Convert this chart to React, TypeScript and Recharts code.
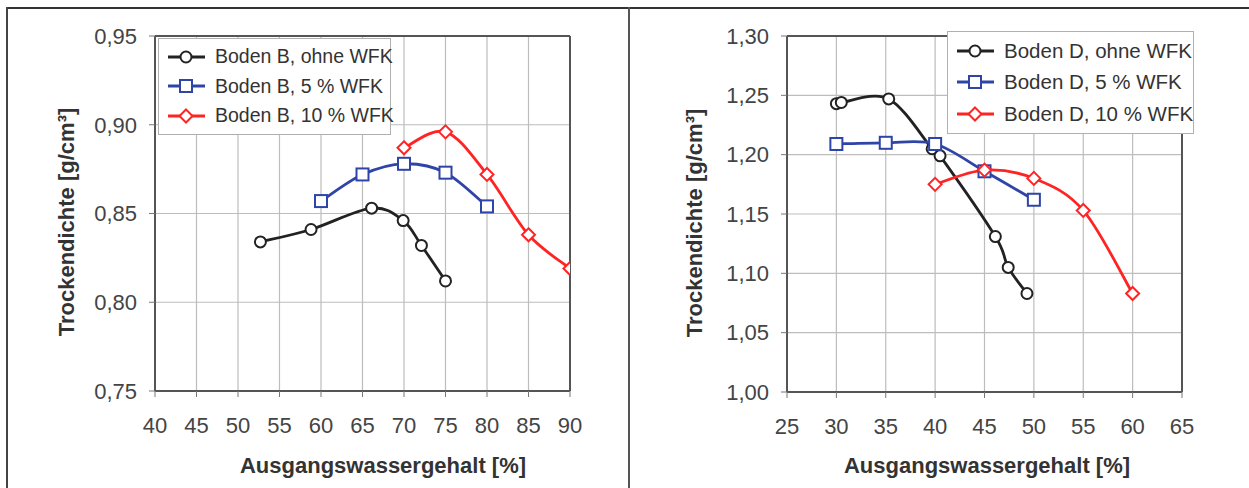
import { LineChart, Line, XAxis, YAxis, CartesianGrid, ReferenceLine } from 'recharts';

// Boden B – Trockendichte über Ausgangswassergehalt
const bodenBOhneX = [52.7, 58.8, 66.1, 69.9, 72.1, 75.0];
const bodenBOhneY = [0.834, 0.841, 0.853, 0.846, 0.832, 0.812];
const bodenB5X = [60, 65, 70, 75, 80];
const bodenB5Y = [0.857, 0.872, 0.878, 0.873, 0.854];
const bodenB10X = [70, 75, 80, 85, 90];
const bodenB10Y = [0.887, 0.896, 0.872, 0.838, 0.819];

// Boden D
const bodenDOhneX = [30.0, 30.5, 35.3, 39.7, 40.5, 46.1, 47.4, 49.3];
const bodenDOhneY = [1.243, 1.244, 1.247, 1.205, 1.199, 1.131, 1.105, 1.083];
const bodenD5X = [30, 35, 40, 45, 50];
const bodenD5Y = [1.209, 1.21, 1.209, 1.186, 1.162];
const bodenD10X = [40, 45, 50, 55, 60];
const bodenD10Y = [1.175, 1.187, 1.18, 1.153, 1.083];

const ticksXB = [40, 45, 50, 55, 60, 65, 70, 75, 80, 85, 90];
const ticksYB = [0.75, 0.8, 0.85, 0.9, 0.95];
const ticksXD = [25, 30, 35, 40, 45, 50, 55, 60, 65];
const ticksYD = [1.0, 1.05, 1.1, 1.15, 1.2, 1.25, 1.3];

const namesB = ['Boden B, ohne WFK', 'Boden B, 5 % WFK', 'Boden B, 10 % WFK'];
const namesD = ['Boden D, ohne WFK', 'Boden D, 5 % WFK', 'Boden D, 10 % WFK'];

const COLORS = ['#222222', '#2e44a6', '#ff2424'];
const SHAPES = ['circle', 'square', 'diamond'];
const FONT = '"Liberation Sans", Arial, sans-serif';

const toPoints = (xs: number[], ys: number[]) => xs.map((x, i) => ({ x, y: ys[i] }));

// Excel-style smoothed line (Bezier with 1/6 tangents)
const excelSmooth: any = (ctx: any) => {
  let pts: number[][] = [];
  return {
    areaStart() {},
    areaEnd() {},
    lineStart() {
      pts = [];
    },
    point(x: number, y: number) {
      pts.push([+x, +y]);
    },
    lineEnd() {
      const n = pts.length;
      if (!n) return;
      ctx.moveTo(pts[0][0], pts[0][1]);
      for (let i = 0; i < n - 1; i++) {
        const p0 = pts[Math.max(i - 1, 0)];
        const p1 = pts[i];
        const p2 = pts[i + 1];
        const p3 = pts[Math.min(i + 2, n - 1)];
        ctx.bezierCurveTo(
          p1[0] + (p2[0] - p0[0]) / 6,
          p1[1] + (p2[1] - p0[1]) / 6,
          p2[0] - (p3[0] - p1[0]) / 6,
          p2[1] - (p3[1] - p1[1]) / 6,
          p2[0],
          p2[1]
        );
      }
    },
  };
};

function Marker({ cx, cy, shape, color }: { cx: number; cy: number; shape: string; color: string }) {
  if (shape === 'square') {
    return <rect x={cx - 6} y={cy - 6} width={12} height={12} fill="#fff" stroke={color} strokeWidth={2} />;
  }
  if (shape === 'diamond') {
    const d = 6.5;
    return (
      <polygon
        points={`${cx},${cy - d} ${cx + d},${cy} ${cx},${cy + d} ${cx - d},${cy}`}
        fill="#fff"
        stroke={color}
        strokeWidth={2}
      />
    );
  }
  return <circle cx={cx} cy={cy} r={5.5} fill="#fff" stroke={color} strokeWidth={2} />;
}

const fmt = (v: number) => v.toFixed(2).replace('.', ',');

interface PanelProps {
  left: number;
  series: { x: number; y: number }[][];
  names: string[];
  ticksX: number[];
  ticksY: number[];
  margin: { top: number; right: number; bottom: number; left: number };
  yTitle: { x: number; y: number };
  xTitle: { x: number; y: number };
  legend: { left: number; top: number; width: number; rowH: number; fontSize: number };
}

function Panel(p: PanelProps) {
  const xMin = p.ticksX[0];
  const xMax = p.ticksX[p.ticksX.length - 1];
  const yMin = p.ticksY[0];
  const yMax = p.ticksY[p.ticksY.length - 1];
  return (
    <div style={{ position: 'absolute', left: p.left, top: 0, width: 620, height: 488 }}>
      <LineChart width={620} height={488} margin={p.margin} style={{ fontFamily: FONT }}>
        <CartesianGrid stroke="#bdbdbd" strokeWidth={1.2} />
        <XAxis
          type="number"
          dataKey="x"
          domain={[xMin, xMax]}
          ticks={p.ticksX}
          allowDataOverflow
          height={30}
          tickSize={6}
          tickMargin={20}
          axisLine={{ stroke: '#555', strokeWidth: 2 }}
          tickLine={{ stroke: '#777' }}
          tick={{ fill: '#444', fontSize: 22, fontFamily: FONT }}
          label={() => (
            <text x={p.xTitle.x} y={p.xTitle.y} textAnchor="middle" fontSize={22} fontWeight="bold" fill="#333" fontFamily={FONT}>
              Ausgangswassergehalt [%]
            </text>
          )}
        />
        <YAxis
          type="number"
          dataKey="y"
          domain={[yMin, yMax]}
          ticks={p.ticksY}
          allowDataOverflow
          width={60}
          tickSize={6}
          tickMargin={12}
          tickFormatter={fmt}
          axisLine={{ stroke: '#555', strokeWidth: 2 }}
          tickLine={{ stroke: '#777' }}
          tick={{ fill: '#444', fontSize: 22, fontFamily: FONT }}
          label={() => (
            <text
              x={p.yTitle.x}
              y={p.yTitle.y}
              textAnchor="middle"
              dominantBaseline="central"
              fontSize={22}
              fontWeight="bold"
              fill="#333"
              fontFamily={FONT}
              transform={`rotate(-90 ${p.yTitle.x} ${p.yTitle.y})`}
            >
              Trockendichte [g/cm³]
            </text>
          )}
        />
        <ReferenceLine y={yMax} stroke="#555" strokeWidth={2} />
        <ReferenceLine x={xMax} stroke="#555" strokeWidth={2} />
        {p.series.map((data, i) => (
          <Line
            key={p.names[i]}
            data={data}
            dataKey="y"
            name={p.names[i]}
            type={excelSmooth}
            stroke={COLORS[i]}
            strokeWidth={2.8}
            isAnimationActive={false}
            dot={(d: any) => (
              <Marker key={`${i}-${d.index}`} cx={d.cx} cy={d.cy} shape={SHAPES[i]} color={COLORS[i]} />
            )}
            activeDot={false}
          />
        ))}
      </LineChart>
      <div
        style={{
          position: 'absolute',
          left: p.legend.left,
          top: p.legend.top,
          width: p.legend.width,
          background: '#fff',
          border: '1.5px solid #b0b0b0',
          padding: '3px 0 3px 0',
          boxSizing: 'border-box',
        }}
      >
        {p.names.map((n, i) => (
          <div key={n} style={{ display: 'flex', alignItems: 'center', height: p.legend.rowH, fontFamily: FONT }}>
            <svg width={50} height={20} style={{ marginLeft: 6, flex: 'none' }}>
              <line x1={3} y1={10} x2={40} y2={10} stroke={COLORS[i]} strokeWidth={3} />
              <Marker cx={21} cy={10} shape={SHAPES[i]} color={COLORS[i]} />
            </svg>
            <span style={{ fontSize: p.legend.fontSize, color: '#333', whiteSpace: 'nowrap' }}>{n}</span>
          </div>
        ))}
      </div>
    </div>
  );
}

export default function App() {
  const seriesB = [
    toPoints(bodenBOhneX, bodenBOhneY),
    toPoints(bodenB5X, bodenB5Y),
    toPoints(bodenB10X, bodenB10Y),
  ];
  const seriesD = [
    toPoints(bodenDOhneX, bodenDOhneY),
    toPoints(bodenD5X, bodenD5Y),
    toPoints(bodenD10X, bodenD10Y),
  ];
  return (
    <div style={{ position: 'absolute', left: 0, top: 0, width: 1249, height: 488, background: '#fff', overflow: 'hidden' }}>
      {/* outer frame and divider */}
      <div style={{ position: 'absolute', left: 6, top: 7, width: 1243, height: 0, borderTop: '2px solid #333' }} />
      <div style={{ position: 'absolute', left: 6, top: 7, width: 0, height: 481, borderLeft: '2px solid #444' }} />
      <div style={{ position: 'absolute', left: 628, top: 7, width: 0, height: 481, borderLeft: '2px solid #555' }} />
      <Panel
        left={0}
        series={seriesB}
        names={namesB}
        ticksX={ticksXB}
        ticksY={ticksYB}
        margin={{ top: 36, right: 50, bottom: 67, left: 95 }}
        yTitle={{ x: 66, y: 222 }}
        xTitle={{ x: 383, y: 473 }}
        legend={{ left: 158, top: 38, width: 233, rowH: 29.5, fontSize: 19.5 }}
      />
      <Panel
        left={629}
        series={seriesD}
        names={namesD}
        ticksX={ticksXD}
        ticksY={ticksYD}
        margin={{ top: 36, right: 67, bottom: 66, left: 98 }}
        yTitle={{ x: 65, y: 223 }}
        xTitle={{ x: 358, y: 473 }}
        legend={{ left: 318, top: 31, width: 247, rowH: 31.5, fontSize: 20.5 }}
      />
    </div>
  );
}
